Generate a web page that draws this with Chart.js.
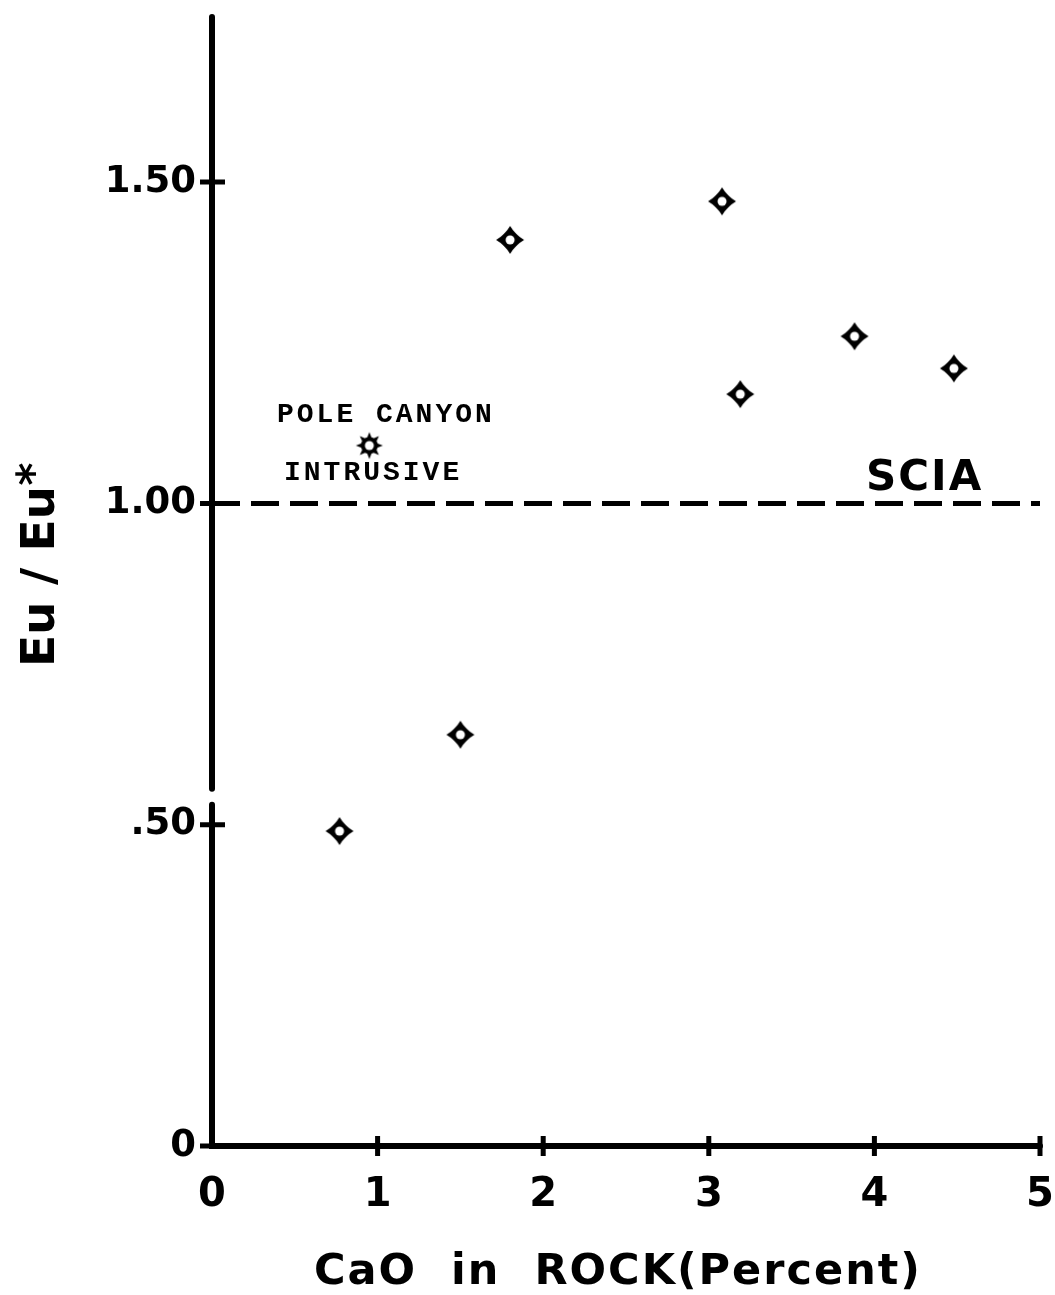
<!DOCTYPE html>
<html>
<head>
<meta charset="utf-8">
<script src="https://cdn.jsdelivr.net/npm/chart.js@4.4.1/dist/chart.umd.min.js"></script>
<style>
  html, body { margin: 0; padding: 0; background: #fff; }
  #wrap { width: 1055px; height: 1295px; }
</style>
</head>
<body>
<div id="wrap"><canvas id="euChart"></canvas></div>
<script>
// CaO in rock (percent) against Eu/Eu* for the analysed samples
var caoPercent = [0.77, 1.50, 1.80, 3.08, 3.19, 3.88, 4.48];
var euRatio = [0.49, 0.64, 1.41, 1.47, 1.17, 1.26, 1.21];

// Pole Canyon intrusive
var poleCanyonCao = [0.95];
var poleCanyonEu = [1.09];

// SCIA reference level
var sciaLevel = 1.00;

var xTicks = [0, 1, 2, 3, 4, 5];
var xTickLabels = ['0', '1', '2', '3', '4', '5'];
var yTicks = [0, 0.5, 1.0, 1.5];
var yTickLabels = ['0', '.50', '1.00', '1.50'];
var yBreak = [0.531, 0.556];

var SANS = '"DejaVu Sans", sans-serif';
var MONO = '"Liberation Mono", monospace';

// open 4-point star marker
function makeDiamond() {
  var c = document.createElement('canvas');
  c.width = 32; c.height = 32;
  var g = c.getContext('2d');
  var m = 16, r = 14, k = 5.2;
  g.fillStyle = '#000';
  g.beginPath();
  g.moveTo(m, m - r);
  g.quadraticCurveTo(m + k, m - k, m + r, m);
  g.quadraticCurveTo(m + k, m + k, m, m + r);
  g.quadraticCurveTo(m - k, m + k, m - r, m);
  g.quadraticCurveTo(m - k, m - k, m, m - r);
  g.fill();
  g.beginPath(); g.arc(m, m, 8.5, 0, 2 * Math.PI); g.fill();
  g.fillStyle = '#fff';
  g.beginPath(); g.arc(m, m, 4.5, 0, 2 * Math.PI); g.fill();
  return c;
}

// sun marker for the intrusive
function makeSun() {
  var c = document.createElement('canvas');
  c.width = 30; c.height = 30;
  var g = c.getContext('2d');
  var m = 15;
  g.fillStyle = '#000';
  for (var i = 0; i < 8; i++) {
    var a = i * Math.PI / 4;
    g.beginPath();
    g.moveTo(m + Math.cos(a) * 13.5, m + Math.sin(a) * 13.5);
    g.lineTo(m + Math.cos(a + 0.4) * 7, m + Math.sin(a + 0.4) * 7);
    g.lineTo(m + Math.cos(a - 0.4) * 7, m + Math.sin(a - 0.4) * 7);
    g.fill();
  }
  g.beginPath(); g.arc(m, m, 8.5, 0, 2 * Math.PI); g.fill();
  g.fillStyle = '#fff';
  g.beginPath(); g.arc(m, m, 4.5, 0, 2 * Math.PI); g.fill();
  return c;
}

var plateAxes = {
  id: 'plateAxes',
  afterDraw: function(chart) {
    var ctx = chart.ctx, xs = chart.scales.x, ys = chart.scales.y;
    var x0 = xs.getPixelForValue(0), x5 = xs.getPixelForValue(5), y0 = ys.getPixelForValue(0);
    ctx.save();
    ctx.strokeStyle = '#000';
    ctx.fillStyle = '#000';

    // axes, vertical one broken below .50
    ctx.lineWidth = 6;
    ctx.lineCap = 'round';
    ctx.beginPath();
    ctx.moveTo(x0, chart.chartArea.top + 2);
    ctx.lineTo(x0, ys.getPixelForValue(yBreak[1]));
    ctx.moveTo(x0, ys.getPixelForValue(yBreak[0]));
    ctx.lineTo(x0, y0);
    ctx.lineTo(x5, y0);
    ctx.stroke();

    // tick crosses
    ctx.lineWidth = 5;
    ctx.lineCap = 'butt';
    ctx.beginPath();
    yTicks.forEach(function(v) {
      var y = ys.getPixelForValue(v);
      ctx.moveTo(x0 - 12, y); ctx.lineTo(x0 + 13, y);
    });
    xTicks.slice(1).forEach(function(v) {
      var x = xs.getPixelForValue(v);
      ctx.moveTo(x, y0 - 10); ctx.lineTo(x, y0 + 10);
    });
    ctx.stroke();

    // x axis title
    ctx.font = 'bold 43px ' + SANS;
    ctx.letterSpacing = '2px';
    ctx.textAlign = 'center';
    ctx.textBaseline = 'alphabetic';
    ctx.fillText('CaO  in  ROCK(Percent)', 618, 1284);

    // y axis title, rotated
    ctx.save();
    ctx.translate(54, 667);
    ctx.rotate(-Math.PI / 2);
    ctx.font = 'bold 47px ' + SANS;
    ctx.letterSpacing = '0px';
    ctx.textAlign = 'left';
    var body = 'Eu / Eu';
    ctx.fillText(body, 0, 0);
    var w = ctx.measureText(body).width;
    ctx.font = 'bold 44px ' + SANS;
    ctx.textAlign = 'center';
    ctx.fillText('*', w + 12, -6);
    ctx.restore();

    // SCIA label
    ctx.font = 'bold 42px ' + SANS;
    ctx.letterSpacing = '2px';
    ctx.textAlign = 'left';
    ctx.fillText('SCIA', 866, 490);

    // Pole Canyon label around its marker
    var py = ys.getPixelForValue(poleCanyonEu[0]);
    ctx.font = 'bold 28px ' + MONO;
    ctx.letterSpacing = '3px';
    ctx.textAlign = 'left';
    ctx.textBaseline = 'middle';
    ctx.fillText('POLE CANYON', 277, py - 31);
    ctx.fillText('INTRUSIVE', 284, py + 27);
    ctx.restore();
  }
};

new Chart(document.getElementById('euChart'), {
  type: 'scatter',
  data: {
    datasets: [
      {
        label: 'Samples',
        data: caoPercent.map(function(x, i) { return { x: x, y: euRatio[i] }; }),
        pointStyle: makeDiamond(),
        pointRadius: 14
      },
      {
        label: 'Pole Canyon intrusive',
        data: poleCanyonCao.map(function(x, i) { return { x: x, y: poleCanyonEu[i] }; }),
        pointStyle: makeSun(),
        pointRadius: 14
      },
      {
        type: 'line',
        label: 'SCIA',
        data: [{ x: 0, y: sciaLevel }, { x: 5, y: sciaLevel }],
        borderColor: '#000',
        borderWidth: 5,
        borderDash: [28, 11],
        borderCapStyle: 'butt',
        pointRadius: 0
      }
    ]
  },
  options: {
    animation: false,
    responsive: true,
    maintainAspectRatio: false,
    layout: { padding: { top: 9, right: 13, left: 0, bottom: 0 } },
    plugins: {
      legend: { display: false },
      tooltip: { enabled: false }
    },
    scales: {
      x: {
        type: 'linear',
        min: 0,
        max: 5,
        afterBuildTicks: function(s) { s.ticks = xTicks.map(function(v) { return { value: v }; }); },
        afterFit: function(s) { s.height = 149; s.paddingLeft = 0; s.paddingRight = 0; },
        grid: { display: false, drawTicks: false },
        border: { display: false },
        ticks: {
          padding: 26,
          color: '#000',
          maxRotation: 0,
          font: { family: SANS, size: 40, weight: 'bold' },
          callback: function(value, index) { return xTickLabels[index]; }
        }
      },
      y: {
        type: 'linear',
        min: 0,
        max: 1.76,
        afterBuildTicks: function(s) { s.ticks = yTicks.map(function(v) { return { value: v }; }); },
        afterFit: function(s) { s.width = 212; s.paddingTop = 0; s.paddingBottom = 0; },
        grid: { display: false, drawTicks: false },
        border: { display: false },
        ticks: {
          padding: 16,
          color: '#000',
          font: { family: SANS, size: 37, weight: 'bold' },
          callback: function(value, index) { return yTickLabels[index]; }
        }
      }
    }
  },
  plugins: [plateAxes]
});
</script>
</body>
</html>
